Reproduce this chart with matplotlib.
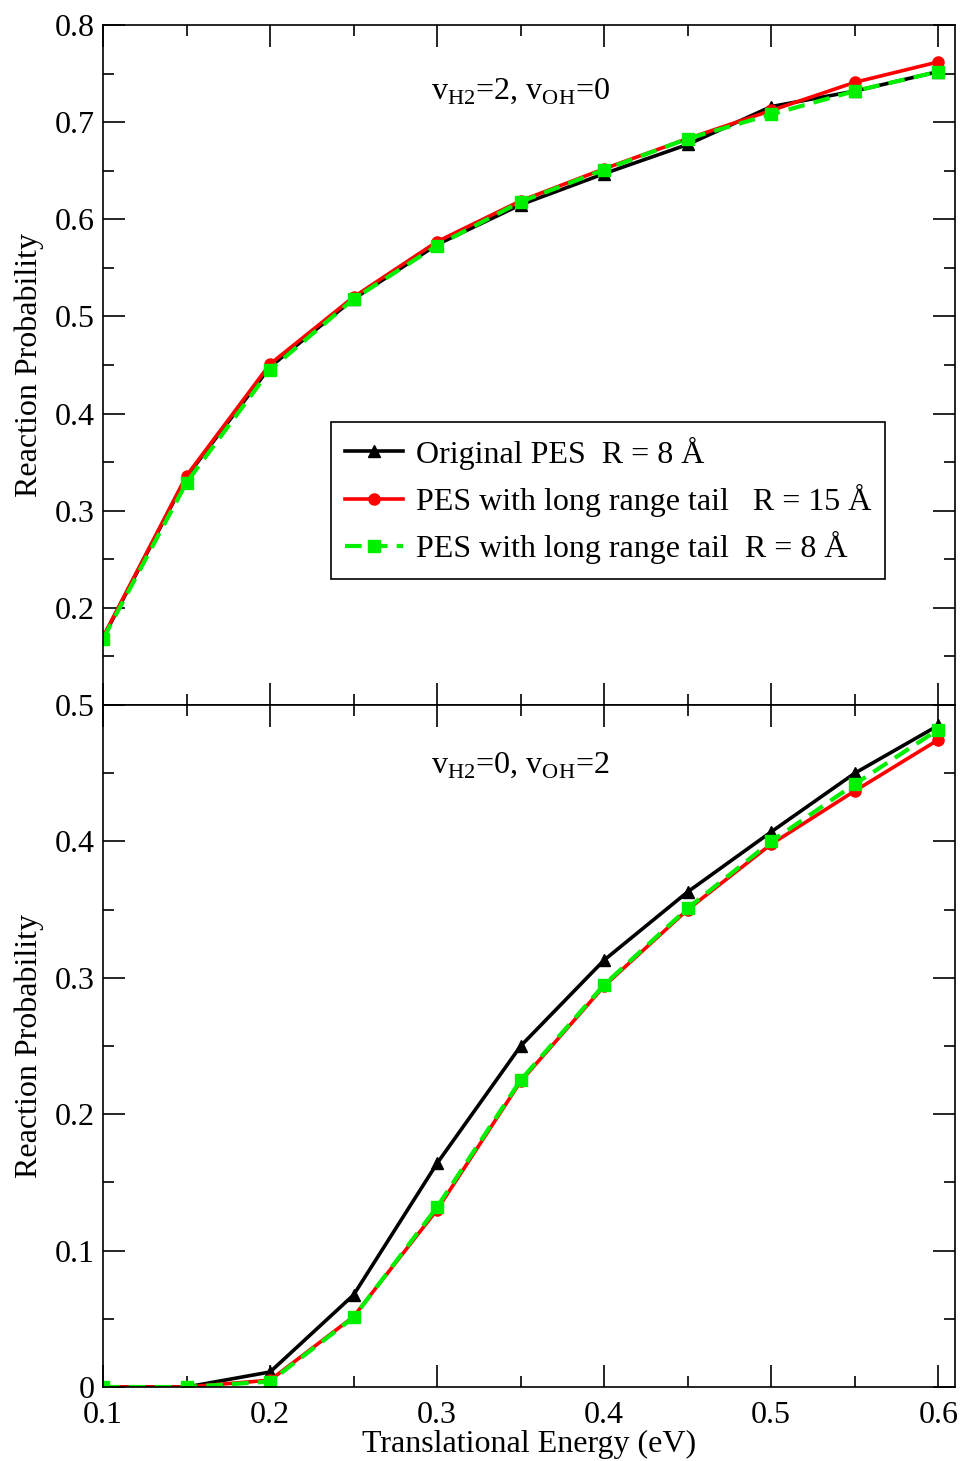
import matplotlib
matplotlib.use("Agg")
import matplotlib.pyplot as plt
from matplotlib.ticker import MultipleLocator, FuncFormatter

plt.rcParams['font.family'] = ['Liberation Serif', 'DejaVu Serif']
plt.rcParams['mathtext.fontset'] = 'custom'
plt.rcParams['mathtext.rm'] = 'Liberation Serif'

energy = [0.1, 0.15, 0.2, 0.25, 0.3, 0.35, 0.4, 0.45, 0.5, 0.55, 0.6]

# top panel: vH2=2, vOH=0
top_orig = [0.169, 0.335, 0.448, 0.518, 0.574, 0.615, 0.647, 0.677, 0.716, 0.732, 0.752]
top_tail15 = [0.170, 0.336, 0.451, 0.520, 0.577, 0.619, 0.652, 0.683, 0.712, 0.741, 0.762]
top_tail8 = [0.168, 0.329, 0.445, 0.518, 0.573, 0.618, 0.651, 0.683, 0.708, 0.732, 0.752]

# bottom panel: vH2=0, vOH=2
bot_orig = [0.0, 0.0, 0.011, 0.0675, 0.164, 0.250, 0.313, 0.363, 0.407, 0.450, 0.485]
bot_tail15 = [0.0, 0.0, 0.005, 0.0516, 0.130, 0.224, 0.294, 0.350, 0.398, 0.437, 0.4745]
bot_tail8 = [0.0, 0.0, 0.004, 0.051, 0.132, 0.225, 0.295, 0.351, 0.400, 0.442, 0.482]

labels = ["Original PES  R = 8 Å",
          "PES with long range tail   R = 15 Å",
          "PES with long range tail  R = 8 Å"]

FS = 23
GREEN = '#00f000'

fig = plt.figure(figsize=(9.62, 14.61), dpi=100)
ax1 = fig.add_axes([103/962, 756/1461, 852/962, 680/1461])
ax2 = fig.add_axes([103/962, 74/1461, 852/962, 682/1461])


def draw(ax, o, r15, r8):
    ax.plot(energy, o, color='black', lw=2.6, marker='^', ms=8, label=labels[0])
    ax.plot(energy, r15, color='red', lw=2.6, marker='o', ms=8, label=labels[1])
    ax.plot(energy, r8, color=GREEN, lw=3.0, ls=(0, (4, 2.2)), marker='s', ms=9,
            label=labels[2])
    ax.set_xlim(0.1, 0.61)
    ax.xaxis.set_major_locator(MultipleLocator(0.1))
    ax.xaxis.set_minor_locator(MultipleLocator(0.05))
    ax.yaxis.set_minor_locator(MultipleLocator(0.05))
    ax.tick_params(which='both', direction='in', top=True, right=True,
                   labelsize=FS, width=1.2, pad=6)
    ax.tick_params(which='major', length=16)
    ax.tick_params(which='minor', length=8)
    for s in ax.spines.values():
        s.set_linewidth(1.2)
    ax.set_ylabel('Reaction Probability', fontsize=FS, labelpad=8)


fmt = FuncFormatter(lambda v, p: '0' if abs(v) < 1e-9 else f'{v:g}')

draw(ax1, top_orig, top_tail15, top_tail8)
ax1.set_ylim(0.1, 0.8)
ax1.yaxis.set_major_locator(MultipleLocator(0.1))
ax1.yaxis.set_major_formatter(FuncFormatter(lambda v, p: '' if v < 0.15 else f'{v:.1f}'))
ax1.tick_params(labelbottom=False)
ax1.text(0.49, 0.903, r'v$_{\mathrm{H2}}$=2, v$_{\mathrm{OH}}$=0', transform=ax1.transAxes,
         ha='center', va='center', fontsize=FS)
leg = ax1.legend(loc='upper left', bbox_to_anchor=(0.2676, 0.416), fontsize=FS,
                 frameon=True, fancybox=False, edgecolor='black', framealpha=1,
                 borderaxespad=0, handlelength=1.8, handletextpad=0.4,
                 borderpad=0.45, labelspacing=0.45)
leg.get_frame().set_linewidth(1.2)

draw(ax2, bot_orig, bot_tail15, bot_tail8)
ax2.set_ylim(0.0, 0.5)
ax2.yaxis.set_major_locator(MultipleLocator(0.1))
ax2.yaxis.set_major_formatter(fmt)
ax2.xaxis.set_major_formatter(FuncFormatter(lambda v, p: f'{v:.1f}'))
ax2.tick_params(axis='x', pad=10)
ax2.text(0.49, 0.912, r'v$_{\mathrm{H2}}$=0, v$_{\mathrm{OH}}$=2', transform=ax2.transAxes,
         ha='center', va='center', fontsize=FS)
ax2.set_xlabel('Translational Energy (eV)', fontsize=FS, labelpad=0)

fig.savefig('out.png', dpi=100)
